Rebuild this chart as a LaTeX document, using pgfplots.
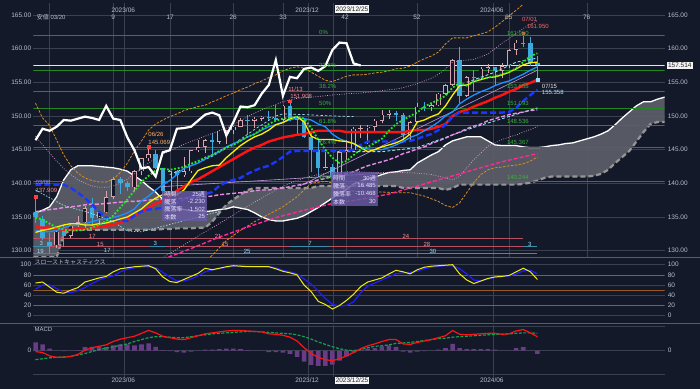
\documentclass[border=0pt]{standalone}
\usepackage{fontspec}
\setmainfont{Liberation Sans}
\newfontfamily\cjk{Noto Sans CJK JP}
\usepackage{pgfplots}
\usepackage{pgfplotstable}
\pgfplotsset{compat=1.18}

\definecolor{bg}{RGB}{19,25,41}
\definecolor{gridc}{RGB}{58,64,78}
\definecolor{txt}{RGB}{185,190,200}
\definecolor{upc}{RGB}{215,165,175}
\definecolor{dnc}{RGB}{60,170,220}
\definecolor{yel}{RGB}{250,240,0}
\definecolor{azu}{RGB}{30,144,255}
\definecolor{redl}{RGB}{255,20,20}
\definecolor{kij}{RGB}{25,55,255}
\definecolor{grn}{RGB}{40,230,40}
\definecolor{vio}{RGB}{230,140,230}
\definecolor{hpk}{RGB}{255,40,150}
\definecolor{org}{RGB}{220,140,30}
\definecolor{pdot}{RGB}{215,160,200}
\definecolor{cya}{RGB}{150,225,240}
\definecolor{fib}{RGB}{35,135,35}
\definecolor{fibt}{RGB}{60,175,60}
\definecolor{cloudf}{RGB}{92,95,105}
\definecolor{cloudb}{RGB}{150,150,150}
\definecolor{lav}{RGB}{190,150,220}
\definecolor{rowr}{RGB}{180,80,95}
\definecolor{rowt}{RGB}{60,140,170}
\definecolor{boxc}{RGB}{105,90,165}
\definecolor{boxt}{RGB}{228,222,255}
\definecolor{macdh}{RGB}{105,60,135}
\definecolor{sigc}{RGB}{20,160,80}
\definecolor{stk}{RGB}{240,235,20}
\definecolor{std}{RGB}{30,30,255}
\definecolor{stoor}{RGB}{150,90,40}
\definecolor{sepc}{RGB}{85,92,106}

\newcommand\fs{\fontsize{6.5pt}{7pt}\selectfont}
\newcommand\fss{\fontsize{6pt}{6.5pt}\selectfont}

\pgfplotsset{panel/.style={scale only axis, width=632pt, xmin=-2.3, xmax=87,
  axis line style={draw=none}, tick style={draw=none}, major tick length=0pt,
  xticklabels={}, yticklabels={}, grid=major, grid style={gridc, line width=0.5pt}}}

\pgfplotstableread{
x o h l c
1 130.8 133.0 130.4 132.8
3 132.2 134.0 131.8 133.8
4 133.8 135.1 133.5 134.2
5 134.2 136.6 133.0 136.3
7 134.8 136.0 133.8 135.7
8 135.7 138.8 135.6 137.9
9 138.0 140.9 137.6 140.6
12 139.4 141.9 138.8 141.8
13 141.8 143.8 141.2 143.7
14 143.7 145.1 143.3 144.3
17 138.8 141.9 137.7 141.8
19 141.2 143.9 141.0 141.8
20 141.8 144.9 141.5 144.9
21 144.9 146.5 144.6 145.4
22 145.4 146.6 144.5 146.4
24 146.2 147.9 145.9 147.8
25 147.8 147.95 145.9 147.85
26 147.85 148.5 147.3 148.4
27 148.4 149.7 148.3 149.4
29 149.3 149.8 148.2 149.6
30 149.6 150.0 149.2 149.9
33 149.4 151.6 149.3 151.5
39 142.2 144.9 141.9 142.4
41 141.0 145.0 140.8 144.6
42 144.6 146.4 143.4 144.9
43 144.9 148.3 144.6 148.1
44 148.1 148.7 146.7 148.2
45 148.2 148.6 145.9 148.4
46 148.4 149.6 147.6 149.3
47 149.3 150.9 148.9 150.2
48 150.2 150.9 149.6 150.5
51 147.1 149.2 146.5 149.1
52 149.1 151.9 148.9 151.4
54 151.3 151.8 150.8 151.6
55 151.6 153.4 151.5 153.3
56 153.3 154.7 153.1 154.6
57 154.6 158.4 154.5 158.3
59 153.0 155.9 152.8 155.8
61 155.6 157.2 155.5 157.0
62 157.0 157.7 156.4 157.2
64 156.7 157.9 155.7 157.4
65 157.4 159.9 157.1 159.8
66 159.8 161.3 159.1 160.9
}\upc

\pgfplotstableread{
x o h l c
-2 135.8 137.9 134.1 135.0
-1 134.7 135.1 131.6 131.8
0 131.3 132.6 129.6 130.7
2 132.9 133.8 130.6 132.2
6 136.3 137.8 133.5 134.8
10 140.6 140.9 138.4 140.0
11 140.0 140.4 138.8 139.4
15 144.4 144.9 142.1 142.2
16 142.2 142.3 137.2 138.8
18 141.8 142.0 138.1 141.2
23 146.4 147.4 144.4 146.2
28 149.4 150.2 147.3 149.3
31 149.9 150.8 149.3 149.7
32 149.7 151.7 149.2 149.4
34 151.5 151.9 149.2 149.6
35 149.6 149.9 147.1 149.4
36 149.4 149.7 146.7 146.8
37 146.8 147.5 141.6 144.9
38 144.9 146.6 140.9 142.2
40 142.4 142.8 140.25 141.0
49 150.5 150.8 149.2 150.1
50 150.1 150.5 146.5 147.1
53 151.4 152.0 150.8 151.3
58 158.3 160.2 151.9 153.0
60 155.8 156.8 153.6 155.6
63 157.2 157.3 154.5 156.7
67 160.9 161.95 160.2 160.8
68 160.8 161.8 157.4 157.8
69 157.8 158.9 155.36 157.5
}\dnc

\pgfplotstableread{
x yel azu red kij grn pnk up1
-2 132.7 133.0 133.5 139.8 134.9 135.8 147.0
-1 133.0 132.8 133.4 139.8 134.6 135.9 145.7
0 133.2 132.8 133.4 139.8 134.0 136.1 144.5
1 133.5 133.0 133.2 139.8 133.4 136.2 143.3
2 133.8 133.4 133.1 139.8 133.1 136.4 142.2
3 134.0 133.7 133.1 139.3 133.0 136.5 141.3
4 134.0 133.8 133.2 138.6 133.0 136.6 140.5
5 133.8 134.0 133.2 137.8 133.1 136.8 140.0
6 133.8 134.3 133.4 136.8 133.4 136.9 139.6
7 134.0 134.6 133.5 135.8 133.8 136.9 139.4
8 134.1 134.7 133.7 134.9 134.4 137.0 139.4
9 134.4 134.9 133.8 134.6 135.2 137.1 139.6
10 134.7 135.2 134.2 134.4 136.4 137.2 140.0
11 135.0 135.6 134.6 134.4 137.6 137.3 140.6
12 135.6 136.2 135.2 135.2 138.9 137.3 141.4
13 136.2 137.4 135.8 135.8 140.2 137.4 142.2
14 137.1 138.1 136.4 136.1 141.1 137.5 143.0
15 137.8 139.0 137.0 136.2 141.9 137.6 143.7
16 138.3 139.8 137.4 136.4 142.2 137.6 144.3
17 138.4 140.4 138.1 136.7 142.0 137.6 144.8
18 138.3 141.3 138.9 137.1 142.2 137.7 145.3
19 139.0 142.2 139.5 137.6 142.4 137.8 145.8
20 140.5 142.6 140.2 138.0 142.9 137.8 146.2
21 141.9 143.0 140.6 138.2 143.3 137.9 146.6
22 142.3 143.6 141.2 138.4 143.8 138.0 147.0
23 142.6 144.2 141.8 138.7 144.2 138.1 147.4
24 142.7 144.7 142.4 139.6 144.8 138.3 147.8
25 143.8 145.4 143.0 140.2 145.3 138.4 148.2
26 144.7 145.9 143.6 140.5 145.7 138.5 148.7
27 145.6 146.3 144.2 140.8 146.3 138.6 149.3
28 146.3 146.9 144.8 141.4 146.9 138.7 149.9
29 146.9 147.3 145.3 141.9 147.3 138.9 150.4
30 147.3 147.9 145.7 142.3 148.1 139.0 150.9
31 147.9 148.4 146.2 142.6 148.8 139.0 151.3
32 148.7 148.7 146.5 143.2 149.3 139.2 151.7
33 149.0 149.1 146.8 143.9 149.6 139.3 152.1
34 149.6 149.4 147.0 144.7 149.7 139.5 152.4
35 149.9 149.7 147.2 144.8 149.9 139.7 152.6
36 149.1 149.6 147.3 144.8 149.6 139.9 152.7
37 147.0 149.4 147.6 144.8 148.2 140.2 152.8
38 146.5 148.8 147.8 144.8 146.5 140.5 152.9
39 146.5 148.4 147.8 144.8 145.0 140.7 153.0
40 146.5 147.3 147.8 144.8 143.8 141.0 153.1
41 146.3 146.6 147.8 144.8 143.0 141.3 153.2
42 146.2 146.2 147.6 144.8 143.3 141.4 153.3
43 145.9 145.9 147.6 145.0 144.2 141.7 153.35
44 145.3 145.4 147.6 145.7 145.0 142.2 153.4
45 144.7 145.1 147.6 146.2 145.4 142.6 153.5
46 145.0 145.0 147.6 146.2 146.0 142.9 153.6
47 145.4 145.0 147.6 146.2 146.6 143.2 153.75
48 145.7 145.3 147.6 146.2 147.8 143.5 153.9
49 146.0 145.7 147.6 146.2 148.8 143.9 154.0
50 146.5 146.2 147.6 146.2 149.4 144.4 154.2
51 147.3 146.8 147.8 146.3 150.0 144.7 154.5
52 149.1 147.2 147.9 146.6 150.5 145.1 154.8
53 149.4 147.8 147.9 147.0 151.4 145.4 155.2
54 149.9 148.4 148.1 147.3 151.9 145.9 155.6
55 150.3 149.1 148.4 147.9 152.4 146.3 156.2
56 151.5 150.0 148.8 148.7 153.0 146.7 157.0
57 153.1 150.6 150.0 149.9 154.2 147.2 158.0
58 154.5 151.8 150.6 150.5 154.9 147.6 158.2
59 154.6 152.5 150.9 150.5 154.5 148.1 158.3
60 155.1 153.1 151.4 150.5 155.1 148.5 158.4
61 155.4 153.6 151.8 150.5 155.5 148.8 158.8
62 155.7 154.0 152.2 150.5 155.7 149.3 159.2
63 155.8 154.5 152.7 150.5 155.9 149.6 160.0
64 156.1 154.9 153.1 150.5 156.2 149.9 160.8
65 156.5 155.2 153.6 150.6 156.5 150.2 161.5
66 157.0 155.7 154.0 151.2 157.1 150.4 162.3
67 157.6 156.2 154.6 152.2 158.0 150.6 163.0
68 157.9 156.8 154.9 153.1 158.9 150.8 163.6
69 158.0 157.3 155.4 153.9 159.3 150.9 164.2
}\ma

\pgfplotstableread{
x v
-2 151.9
-1 149.7
0 148.6
1 146.4
2 144.2
3 142.6
4 141.5
5 140.8
6 140.4
7 140.2
8 140.2
9 140.6
10 141.6
11 143.0
12 144.8
13 146.3
14 147.9
15 148.8
16 149.4
17 149.9
18 150.3
19 150.8
20 151.1
21 151.4
22 151.6
23 152.1
24 152.5
25 153.0
26 153.4
27 153.9
28 154.3
29 154.8
30 155.2
31 155.7
32 156.1
33 156.7
34 157.1
35 157.3
36 157.1
37 156.5
38 155.9
39 155.3
40 155.1
41 155.5
42 155.9
43 156.1
44 156.1
45 156.2
46 156.4
47 156.5
48 156.7
49 157.0
50 157.1
51 157.4
52 158.0
53 158.5
54 158.9
55 159.5
56 160.7
57 161.6
58 161.6
59 161.6
60 161.9
61 162.2
62 162.5
63 163.2
64 164.0
65 164.9
66 165.7
67 166.6
}\bbu

\pgfplotstableread{
x v
20 127.0
21 127.6
23 129.3
25 131.5
27 133.0
29 134.3
31 135.4
33 136.5
35 138.0
37 140.0
39 140.3
41 139.8
43 138.8
45 138.7
47 138.7
49 138.6
51 138.6
53 138.1
55 137.3
56 136.7
57 136.4
58 137.1
59 138.6
60 140.1
61 141.3
62 142.0
63 142.3
64 142.4
65 142.6
66 142.7
67 142.9
68 143.3
69 143.9
}\bbl

\pgfplotstableread{
x v
15 128.0
16 129.0
18 130.2
20 131.5
22 132.8
24 134.0
26 135.3
28 136.6
30 137.8
32 139.0
34 140.0
36 140.8
38 141.3
40 141.6
42 141.7
44 141.7
46 141.6
48 141.6
50 141.6
52 141.5
54 141.3
56 140.8
57 140.5
58 141.0
59 142.3
60 143.5
62 145.5
64 146.5
66 147.2
68 148.0
69 148.4
}\lo

\pgfplotstableread{
x v
16 128.8
17 129.1
20 130.3
24 132.0
28 133.5
32 134.9
36 136.0
40 137.0
44 137.6
48 138.4
52 139.6
56 140.8
60 142.0
64 143.2
69 144.4
}\hp

\pgfplotstableread{
x v
-2 146.4
-1 148.1
0 147.8
1 148.4
2 149.4
3 149.3
4 149.6
5 149.9
6 149.7
7 149.4
8 151.5
9 149.6
10 149.4
11 146.8
12 144.9
13 142.2
14 142.4
15 141.0
16 144.6
17 144.9
18 148.1
19 148.2
20 148.4
21 149.3
22 150.2
23 150.5
24 150.1
25 147.1
26 149.1
27 151.4
28 151.3
29 151.6
30 153.3
31 154.6
32 158.3
33 153.0
34 155.8
35 155.6
36 157.0
37 157.2
38 156.7
39 157.4
40 159.8
41 160.9
42 160.8
43 157.8
44 157.5
}\chik

\pgfplotstableread{
x a b
-2.3 135.4 129.0
-2 135.6 129.0
-1 136.0 129.0
0 136.5 129.0
1 138.0 129.0
2 140.5 132.5
3 142.0 133.0
4 142.6 133.1
5 142.6 133.1
6 142.6 133.1
7 142.5 133.1
8 142.4 133.1
9 142.3 133.1
10 142.1 133.1
11 141.8 133.1
12 141.1 133.1
13 140.4 133.1
14 139.5 133.1
15 138.7 133.1
16 137.6 133.2
17 136.8 133.2
18 136.4 133.3
19 136.1 133.3
20 135.9 133.3
21 135.8 133.4
22 135.8 133.4
23 135.9 134.3
24 136.1 135.6
25 136.2 136.8
26 136.5 137.6
27 136.3 138.3
28 136.1 139.0
29 135.6 139.3
30 135.0 139.3
31 134.6 139.3
32 134.4 139.3
33 134.4 139.3
34 134.6 139.3
35 134.8 139.3
36 135.2 139.3
37 135.8 139.3
38 136.4 139.6
39 137.1 139.6
40 137.8 139.6
41 138.5 139.6
42 139.1 139.6
43 139.9 139.6
44 140.3 139.6
45 140.7 139.6
46 140.9 139.6
47 141.3 139.6
48 141.6 139.6
49 141.7 139.6
50 141.9 139.3
51 142.0 139.3
52 143.0 139.3
53 143.6 139.3
54 144.2 139.3
55 144.7 139.3
56 145.7 139.0
57 146.3 139.3
58 146.6 139.8
59 146.9 139.8
60 146.9 139.8
61 146.9 139.8
62 146.3 139.8
63 145.7 139.8
64 145.6 139.8
65 145.6 139.8
66 145.6 139.8
67 145.4 139.9
68 145.3 140.1
69 145.3 140.4
70 145.4 140.8
71 145.6 141.0
72 145.7 141.0
73 145.9 141.0
74 146.0 141.0
75 146.3 141.0
76 146.6 141.0
77 146.9 141.1
78 147.3 141.4
79 147.8 142.0
80 148.7 143.0
81 149.7 143.9
82 150.6 144.8
83 151.5 146.2
84 152.1 147.6
85 152.1 148.8
86 152.5 149.1
87 152.8 149.1
}\cloud

\pgfplotstableread{
x k d
-2 64 52
-1 66 60
0 56 60
1 46 53
2 44 46
3 50 45
4 55 49
5 66 55
6 70 63
7 74 70
8 77 75
9 86 78
10 92 86
11 94 91
12 96 94
13 97 96
14 98 96
15 92 94
16 76 85
17 67 76
18 65 68
19 71 68
20 77 72
21 83 78
22 93 86
23 90 90
24 93 92
25 96 95
26 98 97
27 97 98
28 96 97
29 96 96
30 96 96
31 96 96
32 92 94
33 87 89
34 84 86
35 80 82
36 60 72
37 47 62
38 28 48
39 22 34
40 13 22
41 20 19
42 30 20
43 42 27
44 57 45
45 66 58
46 70 64
47 74 70
48 82 76
49 89 82
50 86 84
51 82 85
52 90 87
53 95 92
54 97 95
55 98 97
56 99 98
57 100 98
58 82 92
59 70 82
60 63 70
61 68 68
62 73 72
63 76 75
64 77 77
65 79 78
66 86 82
67 93 88
68 86 89
69 71 82
}\stoch

\pgfplotstableread{
x m s h
-2 -0.2 -1.9 1.7
-1 -0.4 -1.7 1.3
0 -1.1 -1.5 0.4
1 -1.4 -1.4 0.0
2 -1.4 -1.3 -0.1
3 -1.2 -1.2 0.0
4 -0.8 -0.9 0.1
5 0.1 -0.6 0.7
6 0.6 -0.2 0.8
7 0.9 0.2 0.7
8 1.2 0.5 0.7
9 1.9 0.8 1.1
10 2.4 1.1 1.3
11 2.7 1.4 1.3
12 3.0 1.9 1.1
13 3.6 2.3 1.3
14 4.2 2.7 1.5
15 3.7 2.9 0.8
16 3.0 2.9 0.1
17 2.7 2.8 -0.1
18 2.4 2.7 -0.3
19 2.3 2.7 -0.4
20 2.7 2.9 -0.2
21 3.1 3.1 0.0
22 3.5 3.3 0.2
23 3.7 3.5 0.2
24 3.9 3.6 0.3
25 4.1 3.7 0.4
26 4.2 3.8 0.4
27 4.2 3.9 0.3
28 4.1 4.0 0.1
29 4.0 4.0 0.0
30 3.9 3.9 0.0
31 3.5 3.8 -0.3
32 3.4 3.7 -0.3
33 3.2 3.6 -0.4
34 2.8 3.5 -0.7
35 2.0 3.3 -1.3
36 0.6 2.9 -2.3
37 -0.6 2.4 -3.0
38 -1.4 1.8 -3.2
39 -1.9 1.3 -3.2
40 -2.1 0.8 -2.9
41 -1.7 0.4 -2.1
42 -1.1 0.1 -1.2
43 -0.4 0.0 -0.4
44 0.4 0.2 0.2
45 1.0 0.6 0.4
46 1.4 0.9 0.5
47 1.9 1.0 0.9
48 2.3 1.2 1.1
49 2.3 1.5 0.8
50 1.4 1.6 -0.2
51 1.3 1.7 -0.4
52 1.7 1.9 -0.2
53 2.0 2.1 -0.1
54 2.3 2.3 0.0
55 2.7 2.5 0.2
56 3.1 2.6 0.5
57 4.2 2.8 1.4
58 3.4 2.9 0.5
59 3.3 3.0 0.3
60 3.4 3.1 0.3
61 3.5 3.2 0.3
62 3.6 3.3 0.3
63 3.6 3.4 0.2
64 3.4 3.4 0.0
65 3.5 3.5 0.0
66 4.1 3.6 0.5
67 4.4 3.7 0.7
68 3.7 3.7 0.0
69 2.9 3.6 -0.7
}\macd

\begin{document}
\begin{tikzpicture}[x=1pt,y=1pt]
\fill[bg] (0,0) rectangle (700,389);

% ================= MAIN PANEL =================
\begin{axis}[panel, at={(33pt,132pt)}, anchor=south west, height=254pt,
  ymin=129.09, ymax=166.78,
  xtick={0,9,10.6,17,26,33,36.6,40.1,42,52,62.7,65,76},
  ytick={130,135,...,165}]
% cloud fill: polygon of span A forward and span B backward
\addplot[fill=cloudf, draw=none, fill opacity=0.92, forget plot] coordinates {
(-2.3,135.4) (-2,135.6) (-1,136.0) (0,136.5) (1,138.0) (2,140.5) (3,142.0) (4,142.6) (5,142.6) (6,142.6)
(7,142.5) (8,142.4) (9,142.3) (10,142.1) (11,141.8) (12,141.1) (13,140.4) (14,139.5) (15,138.7) (16,137.6)
(17,136.8) (18,136.4) (19,136.1) (20,135.9) (21,135.8) (22,135.8) (23,135.9) (24,136.1) (25,136.2) (26,136.5)
(27,136.3) (28,136.1) (29,135.6) (30,135.0) (31,134.6) (32,134.4) (33,134.4) (34,134.6) (35,134.8) (36,135.2)
(37,135.8) (38,136.4) (39,137.1) (40,137.8) (41,138.5) (42,139.1) (43,139.9) (44,140.3) (45,140.7) (46,140.9)
(47,141.3) (48,141.6) (49,141.7) (50,141.9) (51,142.0) (52,143.0) (53,143.6) (54,144.2) (55,144.7) (56,145.7)
(57,146.3) (58,146.6) (59,146.9) (60,146.9) (61,146.9) (62,146.3) (63,145.7) (64,145.6) (65,145.6) (66,145.6)
(67,145.4) (68,145.3) (69,145.3) (70,145.4) (71,145.6) (72,145.7) (73,145.9) (74,146.0) (75,146.3) (76,146.6)
(77,146.9) (78,147.3) (79,147.8) (80,148.7) (81,149.7) (82,150.6) (83,151.5) (84,152.1) (85,152.1) (86,152.5) (87,152.8)
(87,149.1) (86,149.1) (85,148.8) (84,147.6) (83,146.2) (82,144.8) (81,143.9) (80,143.0) (79,142.0) (78,141.4)
(77,141.1) (76,141.0) (71,141.0) (70,140.8) (69,140.4) (68,140.1) (67,139.9) (66,139.8) (58,139.8) (57,139.3)
(56,139.0) (55,139.3) (50,139.3) (49,139.6) (38,139.6) (37,139.3) (28,139.0) (27,138.3) (26,137.6) (25,136.8)
(24,135.6) (23,134.3) (22,133.4) (21,133.4) (18,133.3) (16,133.2) (15,133.1) (3,133.0) (2,132.5) (1,129.2) (-2.3,129.2)
};
\addplot[white, line width=1.3pt, forget plot] table[x=x,y=a]{\cloud};
\addplot[cloudb, line width=2.2pt, dash pattern=on 5pt off 3pt, forget plot] table[x=x,y=b]{\cloud};
% cycle rows
\addplot[rowr, line width=1.2pt, forget plot] coordinates {(-2.3,131.77) (66.9,131.77)};
\addplot[rowr, line width=1.2pt, forget plot] coordinates {(-2.3,130.58) (66.9,130.58)};
\addplot[rowt, line width=1.4pt, forget plot] coordinates {(-2.3,130.58) (0,130.58)};
\addplot[rowt, line width=1.4pt, forget plot] coordinates {(14.2,130.58) (16.3,130.58)};
\addplot[rowt, line width=1.4pt, forget plot] coordinates {(34,130.58) (39.7,130.58)};
\addplot[rowt, line width=1.4pt, forget plot] coordinates {(66.9,130.58) (69,130.58)};
\addplot[rowt, line width=1.4pt, forget plot] coordinates {(-2.3,129.54) (69,129.54)};
% fibonacci
\addplot[fib, line width=0.6pt, forget plot] coordinates {(-2.3,161.95) (87,161.95)};
\addplot[fib, line width=0.6pt, forget plot] coordinates {(-2.3,156.83) (87,156.83)};
\addplot[fib, line width=0.6pt, forget plot] coordinates {(-2.3,153.66) (87,153.66)};
\addplot[fib, line width=0.6pt, forget plot] coordinates {(-2.3,151.10) (87,151.10)};
\addplot[fib, line width=0.6pt, forget plot] coordinates {(-2.3,148.54) (87,148.54)};
\addplot[fib, line width=0.6pt, forget plot] coordinates {(-2.3,145.37) (87,145.37)};
\addplot[fib, line width=0.6pt, forget plot] coordinates {(-2.3,140.25) (87,140.25)};
\addplot[white!80!gray, line width=0.6pt, forget plot] coordinates {(-2.3,157.514) (87,157.514)};
% candles: wicks (quiver from low to high)
\addplot[forget plot, draw=upc, line width=0.7pt, quiver={u=0, v=\thisrow{h}-\thisrow{l}}] table[x=x, y=l]{\upc};
\addplot[forget plot, draw=dnc, line width=0.7pt, quiver={u=0, v=\thisrow{h}-\thisrow{l}}] table[x=x, y=l]{\dnc};
% candles: bodies
\addplot[forget plot, draw=upc, line width=4.4pt, quiver={u=0, v=\thisrow{c}-\thisrow{o}}] table[x=x, y=o]{\upc};
\addplot[forget plot, draw=bg, line width=3.0pt, quiver={u=0, v={max(\thisrow{c}-\thisrow{o}-0.18,0)}}] table[x=x, y expr=\thisrow{o}+0.09]{\upc};
\addplot[forget plot, draw=dnc, line width=4.4pt, quiver={u=0, v=\thisrow{o}-\thisrow{c}}] table[x=x, y=c]{\dnc};
% bands
\addplot[org, line width=0.8pt, dash pattern=on 2.5pt off 1.5pt, forget plot] table[x=x,y=v]{\bbu};
\addplot[org, line width=0.8pt, dash pattern=on 2.5pt off 1.5pt, forget plot] table[x=x,y=v]{\bbl};
\addplot[pdot, line width=0.7pt, dash pattern=on 0.8pt off 1.6pt, forget plot] table[x=x,y=up1]{\ma};
\addplot[pdot, line width=0.7pt, dash pattern=on 0.8pt off 1.6pt, forget plot] table[x=x,y=v]{\lo};
% cyan dashed
\addplot[cya, line width=0.7pt, dash pattern=on 1.5pt off 1.5pt, forget plot] coordinates {(-2,139.0) (2,136.7) (6,135.5) (9,134.3) (11,132.9) (13,132.8) (16,133.6) (21,135.0) (24,135.8)};
\addplot[cya, line width=0.7pt, dash pattern=on 2.5pt off 2pt, forget plot] coordinates {(17,141.3) (20,142.6) (23,144.0) (26,145.8) (29,148.0) (32,150.0) (33,150.3) (36,150.2) (40,150.0) (43,149.9)};
\addplot[cya, line width=0.9pt, dash pattern=on 3pt off 2pt, forget plot] coordinates {(40,144.7) (47,144.7) (52,145.3) (56,146.8) (60,148.3) (64,149.6) (69,151.2)};
\addplot[cya, line width=0.9pt, dash pattern=on 3pt off 2pt, forget plot] coordinates {(59,155.0) (63,156.5) (66,158.0) (69,158.6)};
% lavender trend lines
\addplot[lav, line width=0.6pt, forget plot] coordinates {(16,139.5) (47,141.5)};
\addplot[lav, line width=0.6pt, forget plot] coordinates {(35.4,139.6) (69,156.8)};
% long MAs
\addplot[hpk, line width=1.4pt, dash pattern=on 4pt off 2pt, forget plot] table[x=x,y=v]{\hp};
\addplot[vio, line width=1.4pt, dash pattern=on 4pt off 2pt, forget plot] table[x=x,y=pnk]{\ma};
\addplot[redl, line width=2.4pt, forget plot] table[x=x,y=red]{\ma};
\addplot[kij, line width=2.4pt, dash pattern=on 6pt off 3pt, forget plot] table[x=x,y=kij]{\ma};
\addplot[azu, line width=1.3pt, forget plot] table[x=x,y=azu]{\ma};
\addplot[yel, line width=1.3pt, forget plot] table[x=x,y=yel]{\ma};
\addplot[grn, line width=1.8pt, dash pattern=on 1.8pt off 1.8pt, forget plot] table[x=x,y=grn]{\ma};
% lagging span
\addplot[white, line width=2.2pt, forget plot] table[x=x,y=v]{\chik};
% highlight marks
\addplot[only marks, mark=square*, mark size=1.4pt, color=red!75!white, forget plot] coordinates {(-2,138.0) (14,145.4) (34,152.2) (67,162.3)};
\addplot[only marks, mark=square*, mark size=1.4pt, color=cyan!40!white, forget plot] coordinates {(69,155.36)};
\end{axis}

% ================= STOCHASTICS =================
\begin{axis}[panel, at={(33pt,67pt)}, anchor=south west, height=64pt,
  ymin=-11.76, ymax=113.7, xtick={10.6,36.6,40.1,62.7}, ytick={0,40,60,100}]
\addplot[stoor, line width=0.7pt, forget plot] coordinates {(-2.3,80) (87,80)};
\addplot[stoor, line width=1.1pt, forget plot] coordinates {(-2.3,50) (87,50)};
\addplot[stoor, line width=0.7pt, forget plot] coordinates {(-2.3,20) (87,20)};
\addplot[std, line width=1.2pt, forget plot] table[x=x,y=d]{\stoch};
\addplot[stk, line width=1.0pt, forget plot] table[x=x,y=k]{\stoch};
\end{axis}

% ================= MACD =================
\begin{axis}[panel, at={(33pt,12pt)}, anchor=south west, height=52pt,
  ymin=-5.417, ymax=5.417, xtick={10.6,36.6,40.1,62.7}, ytick={-5,0,5}]
\addplot[ybar, bar width=4.6pt, fill=macdh, draw=none, forget plot] table[x=x,y=h]{\macd};
\addplot[sigc, line width=1.2pt, dash pattern=on 3pt off 1.5pt, forget plot] table[x=x,y=s]{\macd};
\addplot[redl, line width=1.2pt, forget plot] table[x=x,y=m]{\macd};
\end{axis}

% separators
\draw[sepc, line width=0.8pt] (0,{389-257.5}) -- (700,{389-257.5});
\draw[sepc, line width=0.8pt] (0,{389-323.5}) -- (700,{389-323.5});

% price labels
\foreach \v/\yy in {165/15,160/48.7,155/82.4,150/116.1,145/149.8,140/183.5,135/217.2,130/250.9}{
  \node[anchor=west, text=txt, font=\fs, inner sep=0pt] at (668,{389-\yy}) {\v.00};
  \node[anchor=east, text=txt, font=\fs, inner sep=0pt] at (31,{389-\yy}) {\v.00};
}
\foreach \v/\yy in {100/265,80/275.2,60/285.4,40/295.6,20/305.8,0/316}{
  \node[anchor=west, text=txt, font=\fs, inner sep=0pt] at (668,{389-\yy}) {\v};
  \node[anchor=east, text=txt, font=\fs, inner sep=0pt] at (31,{389-\yy}) {\v};
}
\node[anchor=west, text=txt, font=\fs, inner sep=0pt] at (668,{389-351}) {0};
\node[anchor=east, text=txt, font=\fs, inner sep=0pt] at (31,{389-351}) {0};

% current price box
\node[fill=white!90!gray, text=black!85, font=\fs, inner sep=1.2pt, anchor=west] at (667,{389-65.5}) {157.514};

% top labels
\node[text=txt, font=\fs] at (123,{389-10}) {2023/06};
\node[text=txt, font=\fs] at (307,{389-10}) {2023/12};
\node[text=txt, font=\fs] at (492,{389-10}) {2024/06};
\foreach \n/\xx in {9/113,17/170,26/233,33/283,42/345,52/417,65/509,76/587}{
  \node[text=txt, font=\fs] at (\xx,{389-17}) {\n};
}
\node[fill=white!92!gray, text=black!85, font=\fs, inner sep=1.2pt] at (352,{389-9}) {2023/12/25};
\node[anchor=west, text=txt, font=\fss] at (33,{389-17}) {{\cjk 安値} 03/20};
% bottom labels
\node[text=txt, font=\fs] at (123,{389-381}) {2023/06};
\node[text=txt, font=\fs] at (307,{389-381}) {2023/12};
\node[text=txt, font=\fs] at (492,{389-381}) {2024/06};
\node[fill=white!92!gray, text=black!85, font=\fs, inner sep=1.2pt] at (352,{389-381}) {2023/12/25};

% panel titles
\node[anchor=west, text=txt, font=\fss, inner sep=0pt] at (34,{389-263}) {\cjk スローストキャスティクス};
\node[anchor=west, text=txt, font=\fss, inner sep=0pt] at (34,{389-330}) {MACD};

% fibonacci labels
\foreach \t/\yy in {0\%/32,23.6\%/66,38.2\%/87,50\%/104,61.8\%/122,76.4\%/143,100\%/178}{
  \node[anchor=west, text=fibt, font=\fss, inner sep=0pt] at (319,{389-\yy}) {\t};
}
\foreach \t/\yy in {161.950/33,153.658/87,151.093/104,148.536/122,145.367/143,140.244/178}{
  \node[anchor=west, text=fibt, font=\fss, inner sep=0pt] at (507,{389-\yy}) {\t};
}

% annotations
\node[anchor=west, text=red!60!white, font=\fss, inner sep=0pt] at (522,{389-19}) {07/01};
\node[anchor=west, text=red!60!white, font=\fss, inner sep=0pt] at (527,{389-26}) {161.950};
\node[anchor=west, text=white!85!gray, font=\fss, inner sep=0pt] at (542,{389-86}) {07/15};
\node[anchor=west, text=cyan!30!white, font=\fss, inner sep=0pt] at (542,{389-93}) {155.358};
\node[anchor=west, text=red!45!white, font=\fss, inner sep=0pt] at (288,{389-89}) {11/13};
\node[anchor=west, text=red!45!white, font=\fss, inner sep=0pt] at (290,{389-97}) {151.908};
\node[anchor=west, text=orange!60!white, font=\fss, inner sep=0pt] at (148,{389-135}) {06/26};
\node[anchor=west, text=orange!60!white, font=\fss, inner sep=0pt] at (148,{389-143}) {145.069};
\node[anchor=west, text=blue!45!white, font=\fss, inner sep=0pt] at (35,{389-183}) {03/08};
\node[anchor=west, text=red!45!white, font=\fss, inner sep=0pt] at (35,{389-191}) {137.909};

% cycle labels
\foreach \t/\xx/\yy in {17/92/237,21/218/237,24/406/237,15/100/245,15/225/245,28/427/245}{
  \node[text=red!45!white, font=\fss, inner sep=0pt] at (\xx,{389-\yy}) {\t};
}
\foreach \t/\xx/\yy in {3/41/244,3/155/244,7/310/244,3/530/245,19/40/252,17/107/251,25/247/252,30/433/252}{
  \node[text=cyan!40!white, font=\fss, inner sep=0pt] at (\xx,{389-\yy}) {\t};
}

% info boxes
\fill[boxc, opacity=0.82] (162,{389-191}) rectangle (207,{389-221});
\node[anchor=west, text=boxt, font=\fss, inner sep=0pt] at (164,{389-194.5}) {\cjk 時間};
\node[anchor=west, text=boxt, font=\fss, inner sep=0pt] at (164,{389-202}) {\cjk 騰落};
\node[anchor=west, text=boxt, font=\fss, inner sep=0pt] at (164,{389-209.5}) {\cjk 騰落率};
\node[anchor=west, text=boxt, font=\fss, inner sep=0pt] at (164,{389-217}) {\cjk 本数};
\node[anchor=east, text=boxt, font=\fss, inner sep=0pt] at (205,{389-194.5}) {25{\cjk 週}};
\node[anchor=east, text=boxt, font=\fss, inner sep=0pt] at (205,{389-202}) {-2.230};
\node[anchor=east, text=boxt, font=\fss, inner sep=0pt] at (205,{389-209.5}) {-1.502};
\node[anchor=east, text=boxt, font=\fss, inner sep=0pt] at (205,{389-217}) {25};

\fill[boxc, opacity=0.82] (331,{389-172}) rectangle (378,{389-206});
\node[anchor=west, text=boxt, font=\fss, inner sep=0pt] at (333,{389-178}) {\cjk 時間};
\node[anchor=west, text=boxt, font=\fss, inner sep=0pt] at (333,{389-186}) {\cjk 騰落};
\node[anchor=west, text=boxt, font=\fss, inner sep=0pt] at (333,{389-194}) {\cjk 騰落率};
\node[anchor=west, text=boxt, font=\fss, inner sep=0pt] at (333,{389-202}) {\cjk 本数};
\node[anchor=east, text=boxt, font=\fss, inner sep=0pt] at (376,{389-178}) {30{\cjk 週}};
\node[anchor=east, text=boxt, font=\fss, inner sep=0pt] at (376,{389-186}) {16.485};
\node[anchor=east, text=boxt, font=\fss, inner sep=0pt] at (376,{389-194}) {-10.468};
\node[anchor=east, text=boxt, font=\fss, inner sep=0pt] at (376,{389-202}) {30};
\end{tikzpicture}
\end{document}
